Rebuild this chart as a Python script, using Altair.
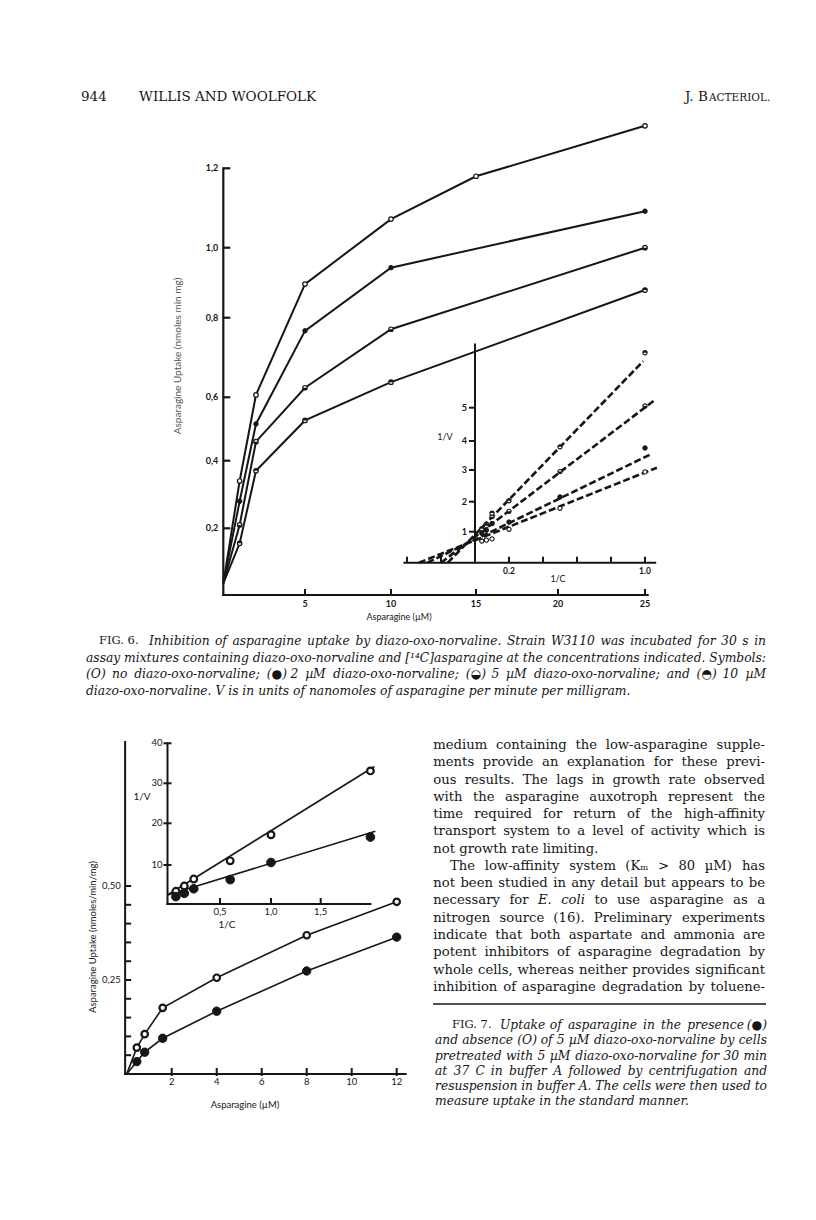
import altair as alt
import pandas as pd

INK = "#161616"
SERIF = "DejaVu Serif"
SANS = "Lato"
W, H = 800, 1204
OFF = 8  # page margin

# ---------------- Fig. 6, main panel: uptake vs asparagine (uM) ----------------
f6_conc_open = [0, 1, 2, 5, 10, 15, 25]
f6_v_open = [0.035, 0.34, 0.606, 0.896, 1.072, 1.18, 1.307]
f6_conc = [0, 1, 2, 5, 10, 25]
f6_v_2uM = [0.035, 0.28, 0.516, 0.767, 0.943, 1.092]
f6_v_5uM = [0.035, 0.21, 0.46, 0.624, 0.771, 1.0]
f6_v_10uM = [0.035, 0.155, 0.37, 0.527, 0.638, 0.879]
f6_yticks = [0.2, 0.4, 0.6, 0.8, 1.0, 1.2]
f6_ytick_text = ["0,2", "0,4", "0,6", "0,8", "1,0", "1,2"]
f6_xticks = [5, 10, 15, 20, 25]
f6_xtick_text = ["5", "10", "15", "20", "25"]

# ---------------- Fig. 6, inset: 1/V vs 1/C ----------------
f6i_invc = [1.0, 0.5, 0.2, 0.1, 0.067, 0.04]
f6i_0uM = [2.94, 1.78, 1.08, 0.77, 0.73, 0.70]
f6i_2uM = [3.76, 2.15, 1.32, 1.27, 1.05, 0.95]
f6i_5uM = [5.05, 2.95, 1.68, 1.5, 1.25, 1.05]
f6i_10uM = [6.65, 3.8, 2.03, 1.62, 1.2, 1.1]
f6i_fit_name = ["0", "2", "5", "10"]
f6i_fit_x0 = [-0.33, -0.28, -0.2, -0.16]
f6i_fit_x1 = [1.07, 1.04, 1.05, 0.99]
f6i_fit_y1 = [3.08, 3.56, 5.2, 6.4]
f6i_yticks = [1, 2, 3, 4, 5]
f6i_ytick_text = ["1", "2", "3", "4", "5"]
f6i_xticks = [-0.4, -0.2, 0.2, 0.4, 0.6, 0.8, 1.0]
f6i_xlab_at = [0.2, 1.0]
f6i_xlab_text = ["0.2", "1.0"]

# ---------------- Fig. 7, main panel ----------------
f7_conc = [0.45, 0.8, 1.6, 4, 8, 12]
f7_v_open = [0.070, 0.106, 0.176, 0.256, 0.369, 0.458]
f7_v_filled = [0.033, 0.058, 0.095, 0.167, 0.274, 0.364]
f7_yticks = [0.05, 0.10, 0.15, 0.20, 0.25, 0.30, 0.35, 0.40, 0.45, 0.50]
f7_ylab_at = [0.25, 0.50]
f7_ylab_text = ["0,25", "0,50"]
f7_xticks = [2, 4, 6, 8, 10, 12]
f7_xtick_text = ["2", "4", "6", "8", "10", "12"]

# ---------------- Fig. 7, inset ----------------
f7i_invc = [2.0, 1.0, 0.6, 0.25, 0.16, 0.08]
f7i_open = [33.1, 17.25, 11.0, 6.4, 4.6, 3.25]
f7i_filled = [16.7, 10.6, 6.25, 3.9, 2.75, 1.9]
f7i_fit_name = ["open", "filled"]
f7i_fit_x1 = [2.04, 2.05]
f7i_fit_y0 = [2.3, 2.3]
f7i_fit_y1 = [34.2, 18.1]
f7i_yticks = [10, 20, 30, 40]
f7i_ytick_text = ["10", "20", "30", "40"]
f7i_xticks = [0.5, 1.0, 1.5]
f7i_xtick_text = ["0,5", "1,0", "1,5"]

# ---------------- page text ----------------
body_lines = [
    "medium containing the low-asparagine supple-",
    "ments provide an explanation for these previ-",
    "ous results. The lags in growth rate observed",
    "with the asparagine auxotroph represent the",
    "time required for return of the high-affinity",
    "transport system to a level of activity which is",
    "not growth rate limiting.",
    "The low-affinity system (Kₘ > 80 µM) has",
    "not been studied in any detail but appears to be",
    "necessary for E. coli to use asparagine as a",
    "nitrogen source (16). Preliminary experiments",
    "indicate that both aspartate and ammonia are",
    "potent inhibitors of asparagine degradation by",
    "whole cells, whereas neither provides significant",
    "inhibition of asparagine degradation by toluene-",
]
body_italic_words = ["E.", "coli"]
fig6_caption = [
    "Inhibition of asparagine uptake by diazo-oxo-norvaline. Strain W3110 was incubated for 30 s in",
    "assay mixtures containing diazo-oxo-norvaline and [¹⁴C]asparagine at the concentrations indicated. Symbols:",
    "(O) no diazo-oxo-norvaline; (●) 2 µM diazo-oxo-norvaline; (◒) 5 µM diazo-oxo-norvaline; and (◓) 10 µM",
    "diazo-oxo-norvaline. V is in units of nanomoles of asparagine per minute per milligram.",
]
fig7_caption = [
    "Uptake of asparagine in the presence (●)",
    "and absence (O) of 5 µM diazo-oxo-norvaline by cells",
    "pretreated with 5 µM diazo-oxo-norvaline for 30 min",
    "at 37 C in buffer A followed by centrifugation and",
    "resuspension in buffer A. The cells were then used to",
    "measure uptake in the standard manner.",
]

# approximate advance widths (em) of DejaVu Serif, used only to spread justified words
_CW = dict(a=.596, b=.640, c=.560, d=.640, e=.592, f=.370, g=.640, h=.644, i=.320, j=.310,
           k=.606, l=.320, m=.948, n=.644, o=.602, p=.640, q=.640, r=.478, s=.513, t=.402,
           u=.644, v=.565, w=.856, x=.564, y=.565, z=.527)
_CW.update({" ": .318, ".": .318, ",": .318, ";": .337, ":": .337, "-": .338, "(": .390,
            ")": .390, "[": .390, "]": .390, ">": .838, "●": .6, "◒": .77, "◓": .77,
            "¹": .4, "⁴": .4, "µ": .82, "ₘ": .6, "M": .90, "W": 1.03, "I": .372,
            "J": .473, "O": .787, "V": .729, "S": .685, "A": .722, "C": .734, "E": .729,
            "K": .775, "P": .733, "T": .681})


def text_w(s, fs):
    w = 0.0
    for ch in s:
        if ch in _CW:
            w += _CW[ch]
        elif ch.isdigit():
            w += .636
        elif ch.isupper():
            w += .72
        else:
            w += .6
    return w * fs


def justify(line, x0, x1, y, fs, just=True):
    """Return (left-aligned word rows, right-aligned word rows) for one text line."""
    words = line.split(" ")
    if not just or len(words) < 2:
        return [[x0, y, line, fs, 0]], []
    widths = [text_w(wd, fs) for wd in words]
    gap = (x1 - x0 - sum(widths)) / (len(words) - 1)
    left, x = [], x0
    for wd, wdw in zip(words[:-1], widths[:-1]):
        left.append([x, y, wd, fs, 0])
        x += wdw + gap
    return left, [[x1, y, words[-1], fs, 0]]


# ---------------- helpers ----------------
def S(dom, rng):
    return alt.Scale(domain=dom, range=[r - OFF for r in rng], nice=False, zero=False)


def XY(xs, ys):
    return dict(x=alt.X("x:Q", scale=xs, axis=None), y=alt.Y("y:Q", scale=ys, axis=None))


def axis_lines(xs, ys, segs, sw=2.0):
    df = pd.DataFrame(segs, columns=["x", "y", "x2", "y2"])
    return alt.Chart(df).mark_rule(color=INK, strokeWidth=sw, strokeCap="square").encode(
        **XY(xs, ys), x2="x2:Q", y2="y2:Q")


def hticks(xs, ys, x_at, vals, o0, o1, sw=2.0):
    df = pd.DataFrame({"x": [x_at] * len(vals), "y": vals})
    return alt.Chart(df).mark_rule(color=INK, strokeWidth=sw, xOffset=o0, x2Offset=o1).encode(
        **XY(xs, ys), x2=alt.X2("x"))


def vticks(xs, ys, y_at, vals, o0, o1, sw=2.0):
    df = pd.DataFrame({"x": vals, "y": [y_at] * len(vals)})
    return alt.Chart(df).mark_rule(color=INK, strokeWidth=sw, yOffset=o0, y2Offset=o1).encode(
        **XY(xs, ys), y2=alt.Y2("y"))


def tick_text(xs, ys, xv, yv, texts, align, dx, dy, size, weight="normal"):
    df = pd.DataFrame({"x": xv, "y": yv, "t": texts})
    return alt.Chart(df).mark_text(align=align, baseline="middle", dx=dx, dy=dy, fontSize=size,
                                   font=SANS, fontWeight=weight, color=INK).encode(
        **XY(xs, ys), text="t:N")


def lines(xs, ys, xv, yv, sv, sw, dash=None):
    df = pd.DataFrame({"x": xv, "y": yv, "s": sv})
    kw = dict(color=INK, strokeWidth=sw)
    if dash:
        kw["strokeDash"] = dash
    return alt.Chart(df).mark_line(**kw).encode(**XY(xs, ys), detail="s:N", order="x:Q")


LOWER = "M-1,0A1,1,0,0,0,1,0Z"
UPPER = "M-1,0A1,1,0,0,1,1,0Z"


def points(xs, ys, xv, yv, kind, size, sw):
    df = pd.DataFrame({"x": xv, "y": yv})
    if kind == "filled":
        return alt.Chart(df).mark_point(shape="circle", filled=True, fill=INK, stroke=INK,
                                        strokeWidth=sw, size=size, opacity=1).encode(**XY(xs, ys))
    base = alt.Chart(df).mark_point(shape="circle", filled=True, fill="white", stroke=INK,
                                    strokeWidth=sw, size=size, opacity=1).encode(**XY(xs, ys))
    if kind == "open":
        return base
    half = alt.Chart(df).mark_point(shape=LOWER if kind == "lower" else UPPER, filled=True,
                                    fill=INK, strokeWidth=0, size=size, opacity=1).encode(**XY(xs, ys))
    return base + half


def free_text(rows, align="left", font=SERIF, style="normal", weight="normal", color=INK):
    df = pd.DataFrame(rows, columns=["px", "py", "t", "fs", "ang"])
    df["px"] = df["px"] - OFF
    df["py"] = df["py"] - OFF
    return alt.Chart(df).mark_text(align=align, baseline="middle", font=font, fontStyle=style,
                                   fontWeight=weight, color=color).encode(
        x=alt.X("px:Q", scale=None, axis=None),
        y=alt.Y("py:Q", scale=None, axis=None),
        text="t:N",
        size=alt.Size("fs:Q", scale=None, legend=None),
        angle=alt.Angle("ang:Q", scale=None, legend=None),
    )


layers = []

# ================= Fig. 6 main =================
x6 = S([0, 5, 10, 15, 20, 25], [223.3, 305, 391, 476, 558, 645])
y6 = S([0, 0.2, 0.4, 0.6, 0.8, 1.0, 1.2], [595, 528.3, 460.7, 397.3, 317.7, 247.7, 168.3])
layers.append(axis_lines(x6, y6, [[0, 0, 0, 1.2], [0, 0, 25.15, 0]], sw=2.2))
layers.append(hticks(x6, y6, 0, f6_yticks, 0, 7, sw=2.2))
layers.append(vticks(x6, y6, 0, f6_xticks, 0, -6, sw=2.0))
layers.append(tick_text(x6, y6, [0] * 6, f6_yticks, f6_ytick_text, "right", -5, 0, 9, "bold"))
layers.append(tick_text(x6, y6, f6_xticks, [0] * 5, f6_xtick_text, "center", 0, 9, 9, "bold"))
xs_all = f6_conc_open + f6_conc * 3
ys_all = f6_v_open + f6_v_2uM + f6_v_5uM + f6_v_10uM
ss_all = ["0"] * len(f6_conc_open) + ["2"] * 6 + ["5"] * 6 + ["10"] * 6
layers.append(lines(x6, y6, xs_all, ys_all, ss_all, 2.0))
layers.append(points(x6, y6, f6_conc_open[1:], f6_v_open[1:], "open", 20, 1.2))
layers.append(points(x6, y6, f6_conc[1:], f6_v_2uM[1:], "filled", 20, 1.0))
layers.append(points(x6, y6, f6_conc[1:], f6_v_5uM[1:], "lower", 20, 1.2))
layers.append(points(x6, y6, f6_conc[1:], f6_v_10uM[1:], "upper", 20, 1.2))

# ================= Fig. 6 inset =================
x6i = S([0, 1], [475, 645])
y6i = S([0, 1, 2, 3, 4, 5], [562.7, 531.7, 501.7, 470, 441, 407.7])
layers.append(axis_lines(x6i, y6i, [[0, 0, 0, 6.9], [-0.415, 0, 1.06, 0]], sw=2.0))
layers.append(hticks(x6i, y6i, 0, f6i_yticks, -6, 0, sw=2.0))
layers.append(vticks(x6i, y6i, 0, f6i_xticks, 0, -6, sw=2.0))
layers.append(tick_text(x6i, y6i, [0] * 5, f6i_yticks, f6i_ytick_text, "right", -8, 0, 9, "bold"))
layers.append(tick_text(x6i, y6i, f6i_xlab_at, [0, 0], f6i_xlab_text, "center", 0, 8, 8.5, "bold"))
fx, fy, fs = [], [], []
for n, a, b, c in zip(f6i_fit_name, f6i_fit_x0, f6i_fit_x1, f6i_fit_y1):
    fx += [a, b]
    fy += [0, c]
    fs += [n, n]
layers.append(lines(x6i, y6i, fx, fy, fs, 2.6, dash=[7, 3]))
layers.append(points(x6i, y6i, f6i_invc, f6i_0uM, "open", 18, 1.1))
layers.append(points(x6i, y6i, f6i_invc, f6i_2uM, "filled", 20, 1.0))
layers.append(points(x6i, y6i, f6i_invc, f6i_5uM, "lower", 18, 1.1))
layers.append(points(x6i, y6i, f6i_invc, f6i_10uM, "upper", 18, 1.1))

# ================= Fig. 7 main =================
x7 = S([0, 12], [126.7, 396.7])
y7 = S([0, 0.5], [1074, 886])
layers.append(axis_lines(x7, y7, [[-0.07, 0, -0.07, 0.883], [-0.07, 0, 12.4, 0]], sw=2.0))
layers.append(hticks(x7, y7, -0.07, f7_yticks, 0, 6, sw=2.0))
layers.append(vticks(x7, y7, 0, f7_xticks, 2, -6, sw=2.0))
layers.append(tick_text(x7, y7, [0, 0], f7_ylab_at, f7_ylab_text, "right", -6, 0, 9.5))
layers.append(tick_text(x7, y7, f7_xticks, [0] * 6, f7_xtick_text, "center", 0, 8, 9.5))
layers.append(lines(x7, y7, [0] + f7_conc + [0] + f7_conc, [0] + f7_v_open + [0] + f7_v_filled,
                    ["o"] * 7 + ["f"] * 7, 1.6))
layers.append(points(x7, y7, f7_conc, f7_v_open, "open", 42, 2.2))
layers.append(points(x7, y7, f7_conc, f7_v_filled, "filled", 70, 1.0))

# ================= Fig. 7 inset =================
x7i = S([0, 0.5, 1.0, 1.5], [167.5, 220, 271, 320.7])
y7i = S([0, 10, 20, 30, 40], [904, 865, 823.3, 783.3, 743.3])
layers.append(axis_lines(x7i, y7i, [[0, 0, 0, 40], [0, 0, 2.0, 0]], sw=2.0))
layers.append(hticks(x7i, y7i, 0, f7i_yticks, -4, 4, sw=2.0))
layers.append(vticks(x7i, y7i, 0, f7i_xticks, 0, -6, sw=2.0))
layers.append(tick_text(x7i, y7i, [0] * 4, f7i_yticks, f7i_ytick_text, "right", -5, 0, 9.5))
layers.append(tick_text(x7i, y7i, f7i_xticks, [0] * 3, f7i_xtick_text, "center", 0, 8, 9.5))
fx, fy, fs = [], [], []
for n, b, a0, a1 in zip(f7i_fit_name, f7i_fit_x1, f7i_fit_y0, f7i_fit_y1):
    fx += [0, b]
    fy += [a0, a1]
    fs += [n, n]
layers.append(lines(x7i, y7i, fx, fy, fs, 1.6))
layers.append(points(x7i, y7i, f7i_invc, f7i_open, "open", 45, 2.2))
layers.append(points(x7i, y7i, f7i_invc, f7i_filled, "filled", 75, 1.0))

# ================= free text =================
# running head
layers.append(free_text([[81, 97, "944", 13.5, 0], [139, 97, "WILLIS AND WOOLFOLK", 13.5, 0],
                         [685, 97, "J. B", 13.5, 0], [709, 98, "ACTERIOL.", 10.5, 0]]))
# axis titles (sans)
layers.append(free_text([[178, 356, "Asparagine Uptake  (nmoles min mg)", 10, 270]],
                        align="center", font=SANS, color="#555"))
layers.append(free_text([[93, 937, "Asparagine Uptake (nmoles/min/mg)", 9.5, 270]],
                        align="center", font=SANS, color="#222"))
layers.append(free_text([[399, 617, "Asparagine (µM)", 9, 0],
                         [245, 1105, "Asparagine (µM)", 9.5, 0],
                         [445, 437, "1/V", 9, 0], [558, 579, "1/C", 9, 0],
                         [142, 797, "1/V", 10, 0], [227, 925, "1/C", 10, 0]],
                        align="center", font=SANS))
# caption labels
layers.append(free_text([[99, 641, "FIG. 6.", 11.5, 0], [452, 1025, "FIG. 7.", 11.5, 0]]))

cap_left, cap_right = [], []
CAP = 12.3
for i, t in enumerate(fig6_caption):
    x0 = 149 if i == 0 else 86
    l, r = justify(t, x0, 766, 641 + 16.7 * i, CAP, just=(i < 3))
    cap_left += l
    cap_right += r
for i, t in enumerate(fig7_caption):
    x0 = 500 if i == 0 else 435
    l, r = justify(t, x0, 767, 1025 + 15.25 * i, CAP, just=(i < 5))
    cap_left += l
    cap_right += r
layers.append(free_text(cap_left, style="italic"))
layers.append(free_text(cap_right, align="right", style="italic"))

# body text (justified column)
BODY = 13.2
body_left, body_right, body_ital = [], [], []
for i, t in enumerate(body_lines):
    x0 = 450 if i == 7 else 433.3
    l, r = justify(t, x0, 765, 745 + 17.27 * i, BODY, just=(i != 6))
    for row in l:
        (body_ital if row[2] in body_italic_words else body_left).append(row)
    body_right += r
layers.append(free_text(body_left))
layers.append(free_text(body_ital, style="italic"))
layers.append(free_text(body_right, align="right"))

# separator rule above Fig. 7 legend
layers.append(alt.Chart(pd.DataFrame({"a": [0]})).mark_rule(color=INK, strokeWidth=1.3).encode(
    x=alt.value(433 - OFF), x2=alt.value(766 - OFF), y=alt.value(1004 - OFF)))

chart = alt.layer(*layers).resolve_scale(x="independent", y="independent").properties(
    width=W, height=H, autosize=alt.AutoSizeParams(type="none"), padding=0,
    background="white").configure_view(stroke=None)

chart.save("out.html", embed_options={"renderer": "svg", "actions": False})
